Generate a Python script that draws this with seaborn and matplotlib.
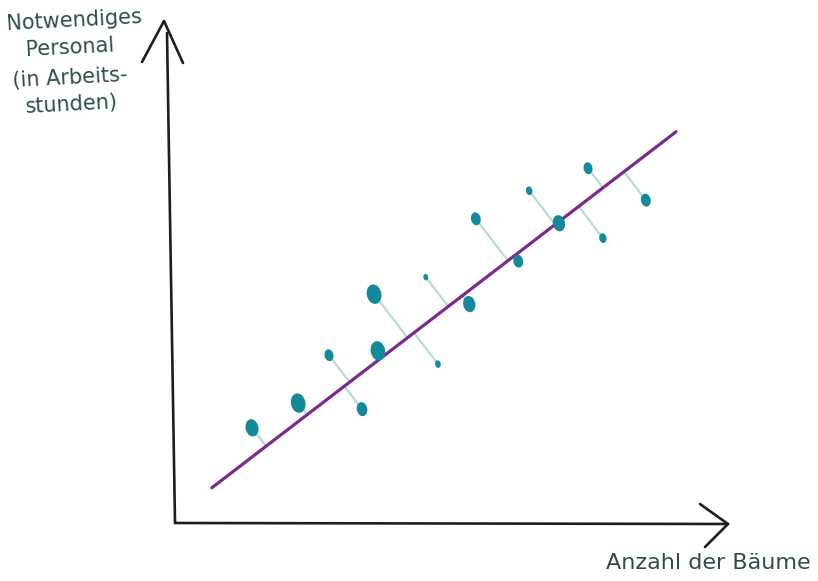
import numpy as np
import pandas as pd
import matplotlib
matplotlib.use("Agg")
import matplotlib.pyplot as plt
import seaborn as sns
from matplotlib.path import Path
from matplotlib.transforms import Affine2D
from matplotlib.markers import MarkerStyle
from matplotlib.collections import LineCollection

# ---- data ----
x_label = "Anzahl der Bäume"
y_label_lines = ["Notwendiges", "Personal", "(in Arbeits-", "stunden)"]

baeume = [14.0, 22.4, 28.0, 34.0, 36.2, 36.9, 45.6, 47.8, 53.5, 54.7, 62.4, 64.4, 69.8, 77.8, 75.1, 85.6]
stunden = [17.3, 21.8, 30.5, 20.7, 41.6, 31.3, 44.7, 28.9, 39.8, 55.3, 47.6, 60.4, 54.5, 51.8, 64.5, 58.7]
punkt_groesse = [16, 18, 11, 13, 18, 18, 6, 7, 15, 12, 12, 8, 15, 9, 11, 12]

fit_x = [6.7, 91.1]
fit_intercept = 1.26
fit_slope = 0.767

# ---- styles ----
teal = "#13899a"
mint = "#b6ddd3"
purple = "#7b2a8d"
ink = "#1e1e1e"
text_col = "#2f4d4c"

sns.set_theme(style="white")
plt.rcParams["font.family"] = ["DejaVu Sans"]

W, H = 818, 581
fig = plt.figure(figsize=(W / 100, H / 100), dpi=100)
fig.patch.set_facecolor("white")

# axes placed so that data origin sits at the sketch's axis corner
x0_px, y0_px = 175, 523
ax_w_px, ax_h_px = 552, 493
ax = fig.add_axes([x0_px / W, (H - y0_px) / H, ax_w_px / W, ax_h_px / H])
ax.set_xlim(0, ax_w_px / 5.5)
ax.set_ylim(0, ax_h_px / 5.5)
ax.set_axis_off()

df = pd.DataFrame({"baeume": baeume, "stunden": stunden, "groesse": punkt_groesse})

# regression line
fit_df = pd.DataFrame({"x": fit_x})
fit_df["y"] = fit_intercept + fit_slope * fit_df["x"]
sns.lineplot(data=fit_df, x="x", y="y", color=purple, linewidth=2.3, ax=ax, zorder=2)

# perpendicular residuals
xs = np.asarray(baeume)
ys = np.asarray(stunden)
foot_x = (xs + fit_slope * (ys - fit_intercept)) / (1 + fit_slope ** 2)
foot_y = fit_intercept + fit_slope * foot_x
segs = [[(a, b), (c, d)] for a, b, c, d in zip(xs, ys, foot_x, foot_y)]
ax.add_collection(LineCollection(segs, colors=mint, linewidths=1.6, zorder=1))

# ellipse marker
ell = Path.unit_circle().transformed(Affine2D().scale(0.74, 1.0).rotate_deg(12))
marker = MarkerStyle(ell)
size_map = {v: (v * 0.8) ** 2 for v in sorted(set(punkt_groesse))}
sns.scatterplot(data=df, x="baeume", y="stunden", size="groesse", sizes=size_map,
                marker=marker, color=teal, edgecolor="none", linewidth=0,
                legend=False, ax=ax, zorder=3)

# hand-drawn style axes with open arrow heads (axes-fraction coords)
def fx(px):
    return (px - x0_px) / ax_w_px

def fy(py):
    return (y0_px - py) / ax_h_px

axis_kw = dict(color=ink, linewidth=1.9, transform=ax.transAxes, clip_on=False,
               solid_capstyle="round", solid_joinstyle="round")
ax.plot([fx(175), fx(167)], [fy(523), fy(33)], **axis_kw)
ax.plot([fx(142), fx(164), fx(183)], [fy(62), fy(21), fy(63)], **axis_kw)
ax.plot([fx(175), fx(728)], [fy(523), fy(524)], **axis_kw)
ax.plot([fx(700), fx(728), fx(705)], [fy(504), fy(524), fy(547)], **axis_kw)

# labels
label_kw = dict(color=text_col, fontsize=15, ha="center", va="center")
for txt, (px, py) in zip(y_label_lines, [(74, 20), (70, 48), (70, 78), (72, 105)]):
    fig.text(px / W, 1 - py / H, txt, rotation=3, **label_kw)
fig.text(708 / W, 1 - 563 / H, x_label, color=text_col, fontsize=16, ha="center", va="center")

fig.savefig("out.png", dpi=100)
